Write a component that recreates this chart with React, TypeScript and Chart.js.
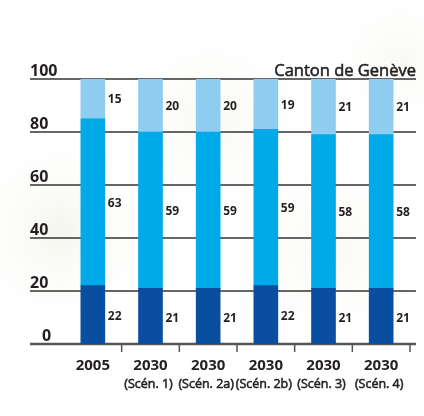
import React, { useEffect, useRef } from "react";
import { Chart, registerables } from "chart.js";

Chart.register(...registerables);

const years = ["2005", "2030", "2030", "2030", "2030", "2030"];
const scenarios = ["", "(Scén. 1)", "(Scén. 2a)", "(Scén. 2b)", "(Scén. 3)", "(Scén. 4)"];
const bottomValues = [22, 21, 21, 22, 21, 21];
const middleValues = [63, 59, 59, 59, 58, 58];
const topValues = [15, 20, 20, 19, 21, 21];
const yTicks = [0, 20, 40, 60, 80, 100];
const title = "Canton de Genève";

const FONT = "'Open Sans', 'DejaVu Sans', sans-serif";
const TEXT = "#231f20";

export default function App() {
  const ref = useRef<HTMLCanvasElement>(null);

  useEffect(() => {
    document.body.style.margin = "0";
    const canvas = ref.current!;
    const semi = (ctx: any, s: string, x: number, y: number) => {
      ctx.fillText(s, x, y);
      ctx.strokeStyle = TEXT;
      ctx.lineWidth = 0.55;
      ctx.strokeText(s, x, y);
    };
    const decor = {
      id: "decor",
      beforeDraw(chart: any) {
        const ctx = chart.ctx;
        ctx.save();
        ctx.fillStyle = "#ffffff";
        ctx.fillRect(0, 0, chart.width, chart.height);
        const blobs = [
          [60, 230, 110, "rgba(232,232,218,0.45)"],
          [210, 120, 110, "rgba(236,236,224,0.4)"],
          [330, 250, 110, "rgba(238,238,228,0.4)"],
          [400, 60, 80, "rgba(238,238,228,0.4)"],
        ];
        for (const [x, y, r, c] of blobs as any) {
          const g = ctx.createRadialGradient(x, y, 0, x, y, r);
          g.addColorStop(0, c);
          g.addColorStop(1, "rgba(255,255,255,0)");
          ctx.fillStyle = g;
          ctx.fillRect(0, 0, chart.width, chart.height);
        }
        ctx.restore();
      },
      beforeDatasetsDraw(chart: any) {
        const ctx = chart.ctx;
        const y = chart.scales.y;
        const x = chart.scales.x;
        ctx.save();
        for (const v of yTicks) {
          const py = y.getPixelForValue(v);
          ctx.beginPath();
          ctx.strokeStyle = v === 0 ? "#555555" : "#333333";
          ctx.lineWidth = v === 0 ? 2.5 : 1.5;
          ctx.moveTo(30, py);
          ctx.lineTo(416, py);
          ctx.stroke();
        }
        ctx.fillStyle = TEXT;
        ctx.font = `700 16px ${FONT}`;
        ctx.textBaseline = "alphabetic";
        ctx.textAlign = "left";
        for (const v of yTicks) {
          const py = y.getPixelForValue(v);
          ctx.fillText(String(v), v === 0 ? 42 : 30, py - 3);
        }
        ctx.strokeStyle = "#555555";
        ctx.lineWidth = 1.5;
        const base = y.getPixelForValue(0);
        const half = (x.getPixelForValue(1) - x.getPixelForValue(0)) / 2;
        for (let i = 0; i < years.length; i++) {
          const tx = x.getPixelForValue(i) + half;
          ctx.beginPath();
          ctx.moveTo(tx, base);
          ctx.lineTo(tx, base + 8);
          ctx.stroke();
        }
        for (let i = 0; i < years.length; i++) {
          const cx = x.getPixelForValue(i);
          ctx.textAlign = "center";
          ctx.font = `700 15px ${FONT}`;
          ctx.fillText(years[i], cx, base + 26);
          if (scenarios[i]) {
            ctx.font = `500 12.5px ${FONT}`;
            semi(ctx, scenarios[i], cx - 2, base + 44);
          }
        }
        ctx.textAlign = "right";
        ctx.font = `500 16.5px ${FONT}`;
        semi(ctx, title, 416, 76);
        ctx.restore();
      },
      afterDatasetsDraw(chart: any) {
        const ctx = chart.ctx;
        ctx.save();
        ctx.fillStyle = TEXT;
        ctx.font = `700 12px ${FONT}`;
        ctx.textAlign = "left";
        ctx.textBaseline = "middle";
        chart.data.datasets.forEach((ds: any, di: number) => {
          const meta = chart.getDatasetMeta(di);
          meta.data.forEach((el: any, i: number) => {
            const mid = (el.y + el.base) / 2 + (di === 0 ? 1 : 0);
            ctx.fillText(String(ds.data[i]), el.x + el.width / 2 + 3, mid + 1);
          });
        });
        ctx.restore();
      },
    };

    const chart = new Chart(canvas, {
      type: "bar",
      data: {
        labels: years.map((y, i) => y + " " + scenarios[i]),
        datasets: [
          { data: bottomValues, backgroundColor: "#0a4f9f" },
          { data: middleValues, backgroundColor: "#00a9e8" },
          { data: topValues, backgroundColor: "#8ecdf0" },
        ],
      },
      options: {
        animation: false,
        responsive: false,
        layout: { padding: { left: 64, right: 14, top: 79, bottom: 72 } },
        datasets: { bar: { barThickness: 24 } } as any,
        plugins: { legend: { display: false }, tooltip: { enabled: false } },
        scales: {
          x: { stacked: true, display: false },
          y: { stacked: true, display: false, min: 0, max: 100 },
        },
      },
      plugins: [decor],
    });
    return () => chart.destroy();
  }, []);

  return (
    <div style={{ position: "absolute", left: 0, top: 0, width: 424, height: 416 }}>
      <canvas ref={ref} width={424} height={416} />
    </div>
  );
}
